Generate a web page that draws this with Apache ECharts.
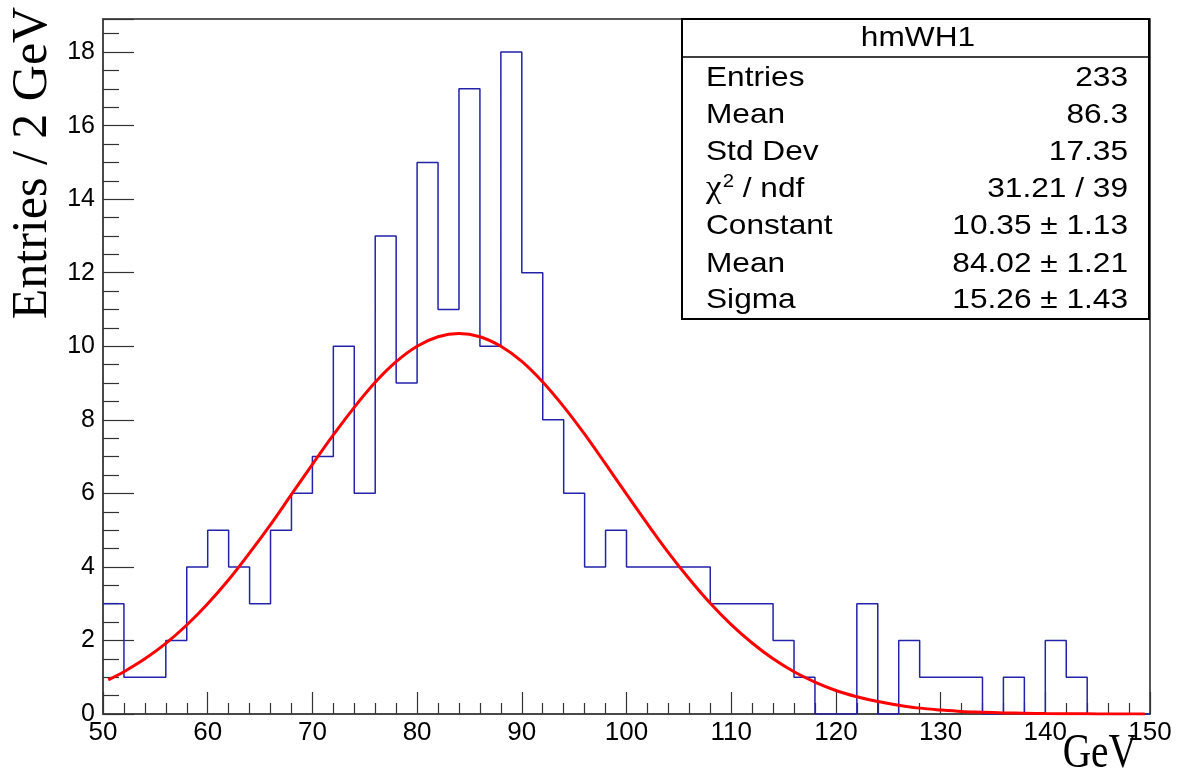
<!DOCTYPE html>
<html>
<head>
<meta charset="utf-8">
<title>hmWH1</title>
<script src="https://cdn.jsdelivr.net/npm/echarts@6/dist/echarts.min.js"></script>
<style>
  html, body { margin: 0; padding: 0; background: #fff; }
  #chart { width: 1178px; height: 777px; }
</style>
</head>
<body>
<div id="chart"></div>
<script>
// histogram bins (low edge, GeV) and counts, 2 GeV per bin
var binLow = [50, 52, 54, 56, 58, 60, 62, 64, 66, 68,
  70, 72, 74, 76, 78, 80, 82, 84, 86, 88,
  90, 92, 94, 96, 98, 100, 102, 104, 106, 108,
  110, 112, 114, 116, 118, 120, 122, 124, 126, 128,
  130, 132, 134, 136, 138, 140, 142, 144, 146, 148];
var counts = [3, 1, 1, 2, 4, 5, 4, 3, 5, 6,
  7, 10, 6, 13, 9, 15, 11, 17, 10, 18,
  12, 8, 6, 4, 5, 4, 4, 4, 4, 3,
  3, 3, 2, 1, 0, 0, 3, 0, 2, 1,
  1, 1, 0, 1, 0, 2, 1, 0, 0, 0];
var histEnd = 150;

// gaussian fit curve
var fitX = [50.5, 52, 54, 56, 58, 60, 62, 64, 66, 68, 70, 72, 74, 76, 78, 80, 82, 84,
  86, 88, 90, 92, 94, 96, 98, 100, 102, 104, 106, 108, 110, 112, 114, 116, 118,
  120, 122, 124, 126, 128, 130, 132, 134, 136, 138, 140, 142, 144, 146, 149.5];
var fitY = [0.93, 1.15, 1.50, 1.92, 2.42, 3.00, 3.65, 4.38, 5.15, 5.97, 6.79, 7.59, 8.34, 9.02, 9.58, 10.00, 10.26, 10.35,
  10.26, 10.00, 9.59, 9.03, 8.36, 7.61, 6.80, 5.98, 5.17, 4.39, 3.67, 3.01, 2.43, 1.93, 1.50, 1.15, 0.87,
  0.64, 0.47, 0.34, 0.24, 0.16, 0.11, 0.07, 0.05, 0.03, 0.02, 0.012, 0.007, 0.004, 0.002, 0.001];

// stats box
var statsTitle = 'hmWH1';
var statsNames = ['Entries', 'Mean', 'Std Dev', '{chi|χ}{sup|2}{n| / ndf}', 'Constant', 'Mean', 'Sigma'];
var statsValues = ['233', '86.3', '17.35', '31.21 / 39', '10.35 ± 1.13', '84.02 ± 1.21', '15.26 ± 1.43'];

var yTitle = 'Entries / 2 GeV';
var xTitle = 'GeV';

var histData = binLow.map(function (x, i) { return [x, counts[i]]; });
histData.push([histEnd, 0]);
var fitData = fitX.map(function (x, i) { return [x, fitY[i]]; });

var sans = 'Liberation Sans, Arial, Helvetica, sans-serif';
var serif = 'Liberation Serif, Times New Roman, serif';
var stretch = 1.13;

var statsEls = [
  { type: 'rect', shape: { x: 682, y: 19, width: 467, height: 300 },
    style: { fill: '#fff', stroke: '#000', lineWidth: 2 }, z: 10 },
  { type: 'line', shape: { x1: 682, y1: 57, x2: 1149, y2: 57 },
    style: { stroke: '#000', lineWidth: 1.5 }, z: 11 },
  { type: 'text', x: 918, y: 38, z: 11, scaleX: stretch,
    style: { text: statsTitle, font: '28px ' + sans, fill: '#000', align: 'center', verticalAlign: 'middle' } }
];
var rowY = [78, 115, 152, 189, 226, 264, 300];
statsNames.forEach(function (name, i) {
  statsEls.push({ type: 'text', x: 706, y: rowY[i], z: 11, scaleX: stretch,
    style: { text: name, font: '28px ' + sans, fill: '#000', verticalAlign: 'middle',
      rich: {
        chi: { fontSize: 31, fontFamily: serif, fill: '#000' },
        sup: { fontSize: 18, fontFamily: sans, fill: '#000', verticalAlign: 'top', padding: [0, 0, 14, 1] },
        n: { fontSize: 28, fontFamily: sans, fill: '#000' }
      } } });
  statsEls.push({ type: 'text', x: 1128, y: rowY[i], z: 11, scaleX: stretch,
    style: { text: statsValues[i], font: '28px ' + sans, fill: '#000', align: 'right', verticalAlign: 'middle' } });
});

var chart = echarts.init(document.getElementById('chart'));
chart.setOption({
  animation: false,
  backgroundColor: '#fff',
  grid: { left: 103, right: 28, top: 19, bottom: 63, show: true, borderColor: '#222', borderWidth: 1.5 },
  xAxis: {
    type: 'value', min: 50, max: 150, interval: 10,
    axisLine: { onZero: false, lineStyle: { color: '#444', width: 1.5 } },
    axisTick: { inside: true, length: 22, lineStyle: { color: '#333', width: 1.2 } },
    minorTick: { show: true, splitNumber: 5, length: 11, lineStyle: { color: '#333', width: 1.2 } },
    splitLine: { show: false },
    axisLabel: { fontSize: 26, fontFamily: sans, color: '#000', margin: 6 }
  },
  yAxis: {
    type: 'value', min: 0, max: 18.9, interval: 2,
    axisLine: { show: true, lineStyle: { color: '#444', width: 1.5 } },
    axisTick: { show: true, inside: true, length: 31, lineStyle: { color: '#333', width: 1.2 } },
    minorTick: { show: true, splitNumber: 4, length: 16, lineStyle: { color: '#333', width: 1.2 } },
    splitLine: { show: false },
    axisLabel: { fontSize: 25, fontFamily: sans, color: '#000', margin: 8, showMaxLabel: false }
  },
  series: [
    {
      type: 'line', step: 'end', data: histData, showSymbol: false, clip: true,
      lineStyle: { color: '#2222aa', width: 1.5 }, z: 2
    },
    {
      type: 'line', data: fitData, smooth: 0.35, showSymbol: false, clip: true,
      lineStyle: { color: '#ff0000', width: 3 }, z: 3
    }
  ],
  graphic: statsEls.concat([
    { type: 'text', x: 33, y: 163, rotation: Math.PI / 2,
      style: { text: yTitle, font: '50px ' + serif, fill: '#000', align: 'center', verticalAlign: 'middle' } },
    { type: 'text', x: 1137, y: 754, scaleX: 0.82,
      style: { text: xTitle, font: '48px ' + serif, fill: '#000', align: 'right', verticalAlign: 'middle' } }
  ])
});
</script>
</body>
</html>
